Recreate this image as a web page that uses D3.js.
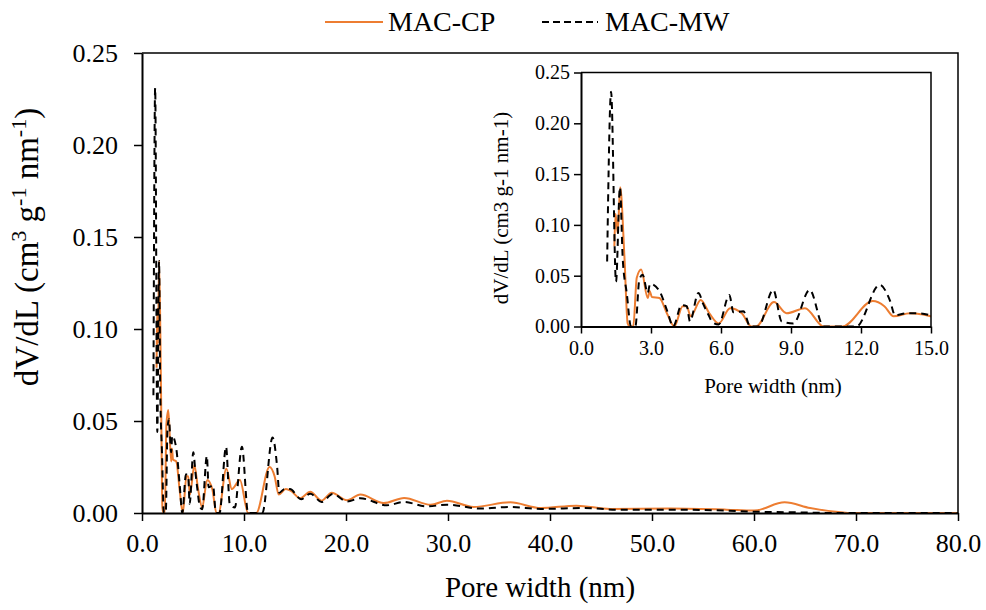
<!DOCTYPE html>
<html lang="en">
<head>
<meta charset="UTF-8">
<title>Pore size distribution</title>
<script src="https://d3js.org/d3.v7.min.js"></script>
<style>
  body { margin: 0; background: #fff; }
  text { font-family: "Liberation Serif", "Times New Roman", serif; fill: #000; }
</style>
</head>
<body>
<div id="chart"></div>
<script>
// MAC-CP (orange, solid)
const cpWidth = [1.43, 1.48, 1.57, 1.68, 1.86, 2.0, 2.1, 2.24, 2.39, 2.58, 2.86, 2.94, 3.04, 3.36, 3.7, 4.0,
  4.36, 4.53, 4.7, 5.13, 5.5, 5.9, 6.39, 6.89, 7.3, 7.5, 8.27, 8.81, 9.6, 10.4, 11.2, 12.5, 13.0, 13.4,
  14.1, 14.6, 15.5, 16.5, 17.6, 18.6, 20.1, 21.4, 23.7, 25.7, 28.3, 29.9, 32.5, 36.1, 39.1, 42.6, 45.9,
  51.8, 57.3, 60.0, 63.0, 65.5, 68.5, 69.5, 80.0];
const cpValue = [0.079, 0.111, 0.092, 0.137, 0.069, 0.003, 0.0, 0.0, 0.048, 0.056, 0.028, 0.035, 0.029, 0.028, 0.012, 0.0,
  0.020, 0.020, 0.010, 0.026, 0.013, 0.003, 0.018, 0.013, 0.0, 0.0, 0.024, 0.013, 0.018, 0.0, 0.0, 0.025, 0.020, 0.010,
  0.013, 0.012, 0.008, 0.0115, 0.0067, 0.011, 0.0069, 0.010, 0.0054, 0.0082, 0.0045, 0.0067, 0.0033, 0.0058, 0.0027, 0.004, 0.0022,
  0.0024, 0.0018, 0.0013, 0.0058, 0.0027, 0.0004, 0.0, 0.0];

// MAC-MW (black, dashed)
const mwWidth = [1.12, 1.29, 1.5, 1.67, 1.79, 1.96, 2.14, 2.33, 2.5, 2.64, 2.86, 2.96, 3.36, 3.7, 3.95,
  4.31, 4.53, 4.67, 5.03, 5.24, 5.45, 5.65, 5.9, 6.36, 6.53, 6.96, 7.25, 7.6, 8.24, 8.6, 9.1, 9.8, 10.4,
  11.8, 12.8, 13.25, 13.46, 13.96, 14.5, 15.6, 16.5, 17.6, 18.7, 20.1, 21.4, 24.0, 25.7, 27.9, 29.9, 33.2,
  36.1, 39.1, 43.3, 46.6, 51.8, 57.3, 60.0, 63.8, 68.0, 80.0];
const mwValue = [0.064, 0.231, 0.044, 0.137, 0.066, 0.033, 0.0, 0.0, 0.046, 0.051, 0.033, 0.042, 0.035, 0.015, 0.0,
  0.021, 0.020, 0.005, 0.033, 0.022, 0.012, 0.004, 0.002, 0.031, 0.014, 0.015, 0.0, 0.0, 0.036, 0.005, 0.003, 0.036, 0.0,
  0.0, 0.041, 0.025, 0.011, 0.013, 0.013, 0.0075, 0.0105, 0.006, 0.0103, 0.0063, 0.008, 0.0042, 0.006, 0.0036, 0.0045, 0.0024,
  0.0033, 0.0022, 0.0027, 0.0018, 0.0018, 0.0013, 0.0007, 0.0004, 0.0, 0.0];

const mainXTicks = [0, 10, 20, 30, 40, 50, 60, 70, 80];
const mainYTicks = [0, 0.05, 0.10, 0.15, 0.20, 0.25];
const insetXTicks = [0, 3, 6, 9, 12, 15];
const insetYTicks = [0, 0.05, 0.10, 0.15, 0.20, 0.25];

const seriesNames = ["MAC-CP", "MAC-MW"];
const orange = "#ED7D31";

const cp = cpWidth.map((w, i) => ({ w: w, v: cpValue[i] }));
const mw = mwWidth.map((w, i) => ({ w: w, v: mwValue[i] }));

const svg = d3.select("#chart").append("svg")
  .attr("width", 986)
  .attr("height", 610);

function drawPanel(opts) {
  const x = d3.scaleLinear().domain(opts.xDomain).range([opts.left, opts.right]);
  const y = d3.scaleLinear().domain([0, 0.25]).range([opts.bottom, opts.top]);
  const g = svg.append("g");

  g.append("clipPath").attr("id", opts.id)
    .append("rect")
    .attr("x", opts.left).attr("y", opts.top - 5)
    .attr("width", opts.right - opts.left).attr("height", opts.bottom - opts.top + 5);

  const line = d3.line()
    .x(d => x(d.w))
    .y(d => y(d.v))
    .curve(d3.curveMonotoneX);

  const plot = g.append("g").attr("clip-path", `url(#${opts.id})`);
  plot.append("path").datum(cp)
    .attr("fill", "none").attr("stroke", orange).attr("stroke-width", 2)
    .attr("d", line);
  plot.append("path").datum(mw)
    .attr("fill", "none").attr("stroke", "#000").attr("stroke-width", 2)
    .attr("stroke-dasharray", opts.dash)
    .attr("d", line);

  // frame on top and right
  g.append("path")
    .attr("d", `M${opts.left},${opts.top}H${opts.right}V${opts.bottom}`)
    .attr("fill", "none").attr("stroke", "#000").attr("stroke-width", 1.5);

  const xa = g.append("g")
    .attr("transform", `translate(0,${opts.bottom})`)
    .call(d3.axisBottom(x).tickValues(opts.xTicks).tickFormat(d3.format(".1f"))
      .tickSize(opts.tick).tickSizeOuter(0).tickPadding(opts.xPad));
  const ya = g.append("g")
    .attr("transform", `translate(${opts.left},0)`)
    .call(d3.axisLeft(y).tickValues(opts.yTicks).tickFormat(d3.format(".2f"))
      .tickSize(opts.tick).tickSizeOuter(0).tickPadding(opts.yPad));

  [xa, ya].forEach(a => {
    a.select(".domain").attr("stroke", "#000").attr("stroke-width", 2);
    a.selectAll(".tick line").attr("stroke", "#000").attr("stroke-width", 1.5);
    a.selectAll("text")
      .style("font-family", '"Liberation Serif", "Times New Roman", serif')
      .style("font-size", opts.tickFont + "px")
      .attr("fill", "#000");
  });
  return g;
}

// main chart
drawPanel({
  id: "clipMain", left: 142, right: 958, top: 53, bottom: 513,
  xDomain: [0, 80], xTicks: mainXTicks, yTicks: mainYTicks,
  tick: 8, tickFont: 26, xPad: 13, yPad: 16, dash: "7,5"
});

// inset
drawPanel({
  id: "clipInset", left: 581, right: 931, top: 72.5, bottom: 326.5,
  xDomain: [0, 15], xTicks: insetXTicks, yTicks: insetYTicks,
  tick: 7, tickFont: 20, xPad: 7, yPad: 4, dash: "7,5"
});

// main axis titles
svg.append("text")
  .attr("x", 540).attr("y", 597)
  .attr("text-anchor", "middle")
  .style("font-size", "29px")
  .text("Pore width (nm)");

const yTitle = svg.append("text")
  .attr("transform", "translate(38,247) rotate(-90)")
  .attr("text-anchor", "middle")
  .style("font-size", "33px");
yTitle.append("tspan").text("dV/dL (cm");
yTitle.append("tspan").attr("baseline-shift", "super").style("font-size", "22px").text("3");
yTitle.append("tspan").text(" g");
yTitle.append("tspan").attr("baseline-shift", "super").style("font-size", "22px").text("-1");
yTitle.append("tspan").text(" nm");
yTitle.append("tspan").attr("baseline-shift", "super").style("font-size", "22px").text("-1");
yTitle.append("tspan").text(")");

// inset axis titles
svg.append("text")
  .attr("x", 773).attr("y", 393)
  .attr("text-anchor", "middle")
  .style("font-size", "21px")
  .text("Pore width (nm)");
svg.append("text")
  .attr("transform", "translate(508,208) rotate(-90)")
  .attr("text-anchor", "middle")
  .style("font-size", "21px")
  .text("dV/dL (cm3 g-1 nm-1)");

// legend
const legend = svg.append("g");
const legendItems = [
  { name: seriesNames[0], x1: 325, x2: 383, tx: 388, color: orange, dash: null },
  { name: seriesNames[1], x1: 542, x2: 598, tx: 605, color: "#000", dash: "7,4" }
];
legendItems.forEach(d => {
  legend.append("line")
    .attr("x1", d.x1).attr("x2", d.x2).attr("y1", 22).attr("y2", 22)
    .attr("stroke", d.color).attr("stroke-width", 2)
    .attr("stroke-dasharray", d.dash);
  legend.append("text")
    .attr("x", d.tx).attr("y", 31)
    .style("font-size", "28px")
    .text(d.name);
});
</script>
</body>
</html>
